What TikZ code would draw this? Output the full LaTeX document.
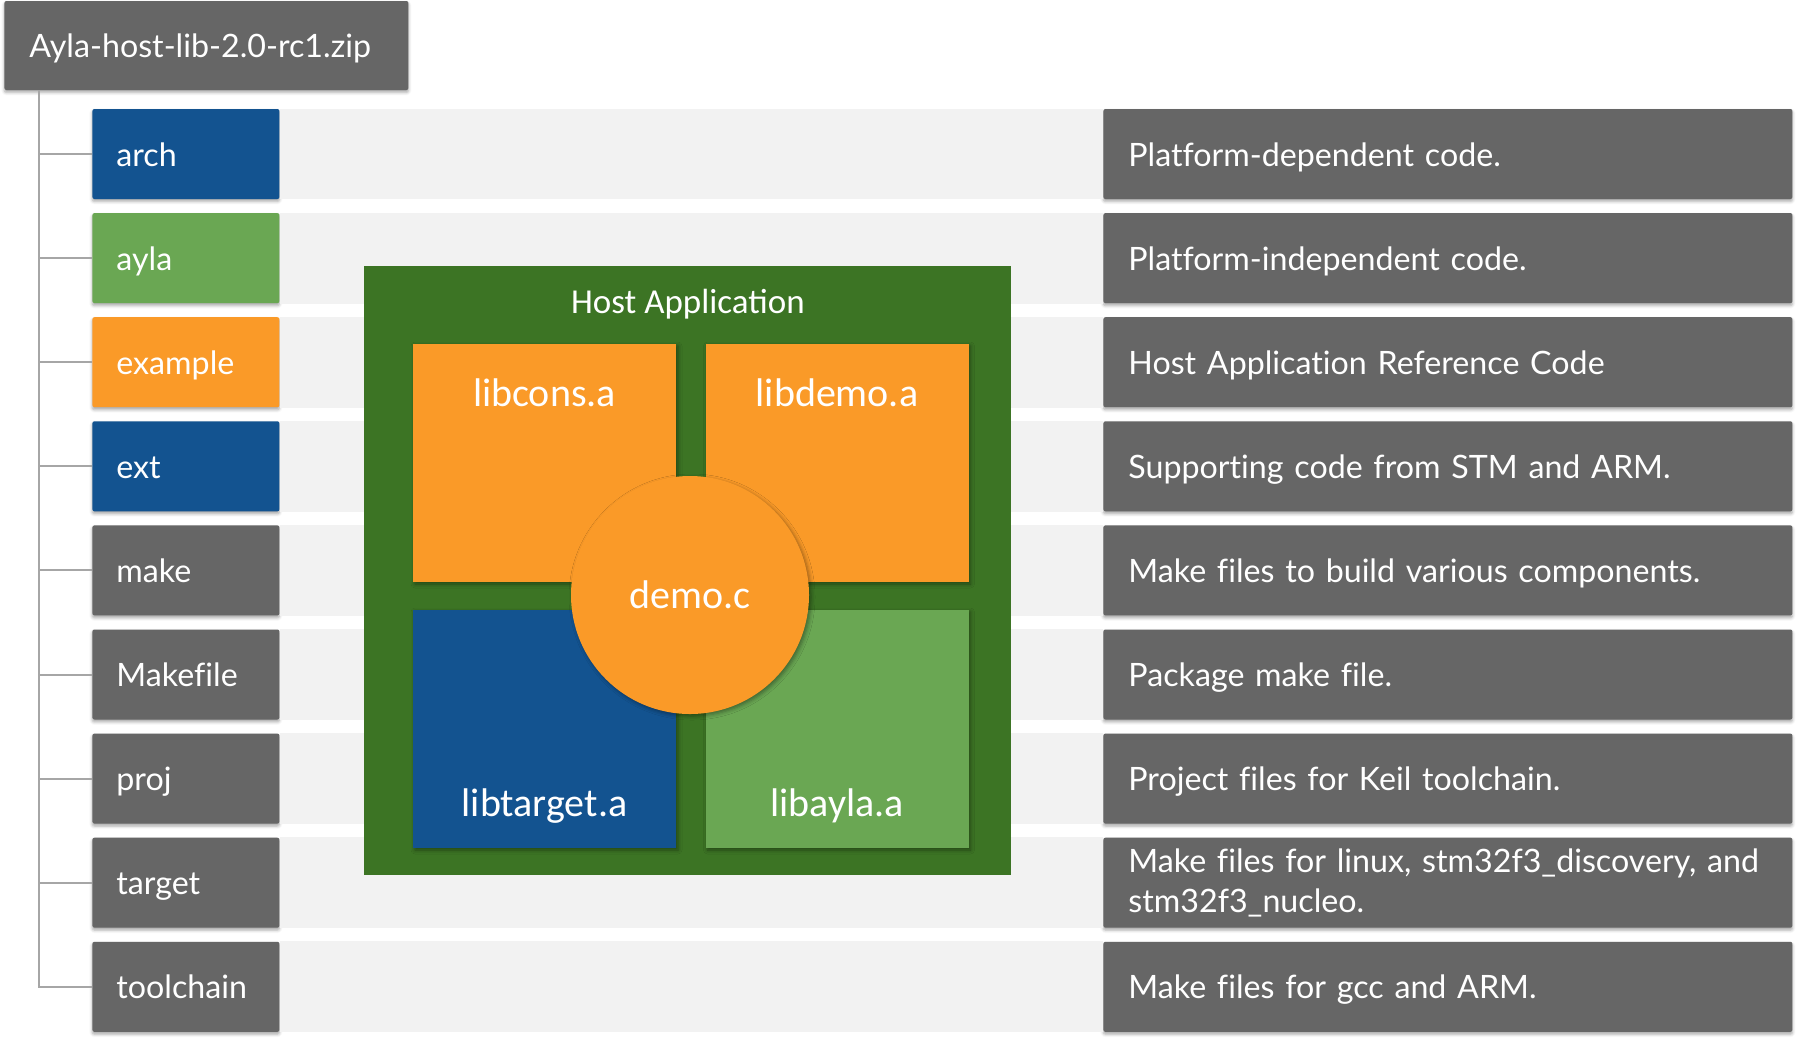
\documentclass[tikz,border=0pt]{standalone}
\usepackage{fontspec}
\setmainfont{Lato}[Ligatures=CommonOff]
\newfontfamily\hostfamily{Carlito}
\usepackage{tikz}
\usetikzlibrary{shadows.blur}
\definecolor{archblue}{HTML}{135390}
\definecolor{leafgreen}{HTML}{6AA753}
\definecolor{hostgreen}{HTML}{3C7424}
\definecolor{boxorange}{HTML}{FA9A28}
\definecolor{boxgray}{HTML}{666666}
\definecolor{bandgray}{HTML}{F2F2F2}
\definecolor{treegray}{HTML}{A6A6A6}
\newcommand{\dirfont}   {\fontsize{16.1pt}{20pt}\selectfont}
\newcommand{\libfont}   {\hostfamily\fontsize{20pt}{24pt}\selectfont}
\newcommand{\appfont}   {\hostfamily\fontsize{17.5pt}{21pt}\selectfont}

\begin{document}
\begin{tikzpicture}[x=0.5pt,y=-0.5pt,
    dirbox/.style={anchor=west,fill=boxgray,text=white,rounded corners=1pt,
      minimum height=45pt,inner xsep=12pt,inner ysep=0pt,text width=69.5pt,align=left,
      text height=13pt,text depth=1pt,font=\dirfont,
      blur shadow={shadow xshift=0pt,shadow yshift=-1.2pt,shadow blur radius=1.5pt,shadow opacity=35}},
    notebox/.style={dirbox,inner xsep=12.5pt,text width=319.5pt},
    libbox/.style={minimum width=131.5pt,minimum height=119pt,inner sep=0pt,
      blur shadow={shadow xshift=1pt,shadow yshift=-1pt,shadow blur radius=2pt,shadow opacity=40}},
    libtext/.style={anchor=base,text=white,font=\libfont,inner sep=0pt},
    band/.style={fill=bandgray},
    tree/.style={draw=treegray,line width=1pt}]
     \useasboundingbox (0,0) rectangle (1798,1040);
     \node[dirbox,text width=177pt,inner xsep=12.5pt,minimum height=44.5pt] (zip) at (4,45.5) {\mbox{Ayla-host-lib-2.0-rc1.zip}};
     \coordinate (trunk) at ([xshift=17.5pt]zip.south west);
     \node[dirbox,fill=archblue]   (arch)      at (92,154.0) {arch};
     \node[dirbox,fill=leafgreen]  (ayla)      at (92,258.1) {ayla};
     \node[dirbox,fill=boxorange]  (example)   at (92,362.2) {example};
     \node[dirbox,fill=archblue]   (ext)       at (92,466.3) {ext};
     \node[dirbox]                 (make)      at (92,570.4) {make};
     \node[dirbox]                 (makefile)  at (92,674.5) {Makefile};
     \node[dirbox]                 (proj)      at (92,778.6) {proj};
     \node[dirbox]                 (target)    at (92,882.7) {target};
     \node[dirbox]                 (toolchain) at (92,986.8) {toolchain};
     \node[notebox] (archnote)      at (1103,154.0) {Platform-dependent code.};
     \node[notebox] (aylanote)      at (1103,258.1) {Platform-independent code.};
     \node[notebox] (examplenote)   at (1103,362.2) {Host Application Reference Code};
     \node[notebox] (extnote)       at (1103,466.3) {Supporting code from STM and ARM.};
     \node[notebox] (makenote)      at (1103,570.4) {Make files to build various components.};
     \node[notebox] (makefilenote)  at (1103,674.5) {Package make file.};
     \node[notebox] (projnote)      at (1103,778.6) {Project files for Keil toolchain.};
     \node[notebox,text height=,text depth=] (targetnote) at (1103,882.7)
          {\mbox{Make files for linux, stm32f3\_discovery, and}\\stm32f3\_nucleo.};
     \node[notebox] (toolchainnote) at (1103,986.8) {Make files for gcc and ARM.};
     \draw[tree] (trunk) |- (arch.west);
     \draw[tree] (trunk) |- (ayla.west);
     \draw[tree] (trunk) |- (example.west);
     \draw[tree] (trunk) |- (ext.west);
     \draw[tree] (trunk) |- (make.west);
     \draw[tree] (trunk) |- (makefile.west);
     \draw[tree] (trunk) |- (proj.west);
     \draw[tree] (trunk) |- (target.west);
     \draw[tree] (trunk) |- (toolchain.west);
     \fill[band] (arch.north east)      rectangle (archnote.south west);
     \fill[band] (ayla.north east)      rectangle (aylanote.south west);
     \fill[band] (example.north east)   rectangle (examplenote.south west);
     \fill[band] (ext.north east)       rectangle (extnote.south west);
     \fill[band] (make.north east)      rectangle (makenote.south west);
     \fill[band] (makefile.north east)  rectangle (makefilenote.south west);
     \fill[band] (proj.north east)      rectangle (projnote.south west);
     \fill[band] (target.north east)    rectangle (targetnote.south west);
     \fill[band] (toolchain.north east) rectangle (toolchainnote.south west);
     \node[fill=hostgreen,minimum width=323.5pt,minimum height=304.5pt,inner sep=0pt,anchor=north west] (host) at (364,266) {};
     \node[anchor=base,text=white,font=\appfont,inner sep=0pt] (hosttitle) at ([yshift=-23.5pt]host.north) {Host Application};
     \node[libbox,fill=boxorange] (libcons)   at (544.5,463) {};
     \node[libbox,fill=boxorange] (libdemo)   at (837.0,463) {};
     \node[libbox,fill=archblue]  (libtarget) at (544.5,729) {};
     \node[libbox,fill=leafgreen] (libayla)   at (837.0,729) {};
     \node[libtext] (libconstext)   at ([yshift=-31.5pt]libcons.north)  {libcons.a};
     \node[libtext] (libdemotext)   at ([yshift=-31.5pt]libdemo.north)  {libdemo.a};
     \node[libtext] (libtargettext) at ([yshift=16pt]libtarget.south)   {libtarget.a};
     \node[libtext] (libaylatext)   at ([yshift=16pt]libayla.south)     {libayla.a};
     \node[circle,fill=boxorange,minimum size=119pt,inner sep=0pt,text=white,font=\libfont,
       blur shadow={shadow xshift=1pt,shadow yshift=-1pt,shadow blur radius=2pt,shadow opacity=40}] (democ) at (690,595) {demo.c};
\end{tikzpicture}
\end{document}
